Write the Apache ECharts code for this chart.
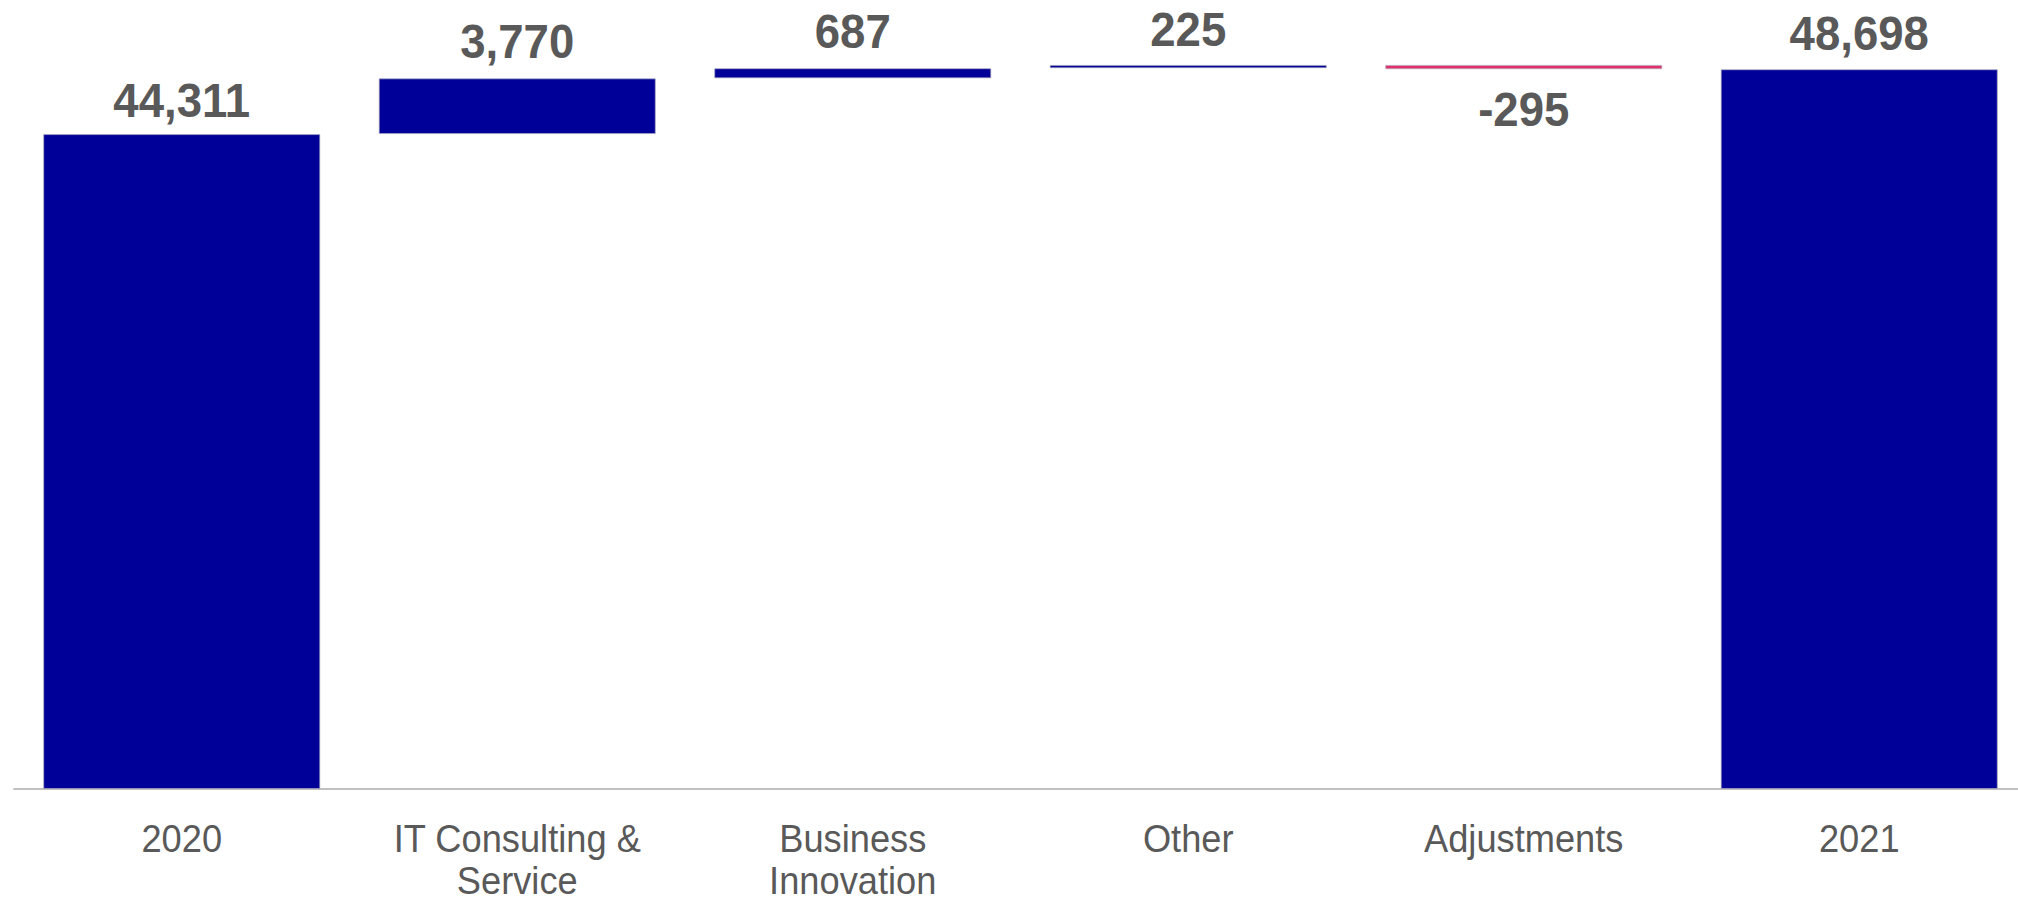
<!DOCTYPE html>
<html>
<head>
<meta charset="utf-8">
<script src="https://cdn.jsdelivr.net/npm/echarts@6/dist/echarts.min.js"></script>
<style>
  html, body { margin: 0; padding: 0; background: #ffffff; overflow: hidden; width: 2018px; height: 902px; }
  /* drawn on a slightly wider canvas, then narrowed so the lettering is a touch condensed */
  #chart { width: 2170px; height: 902px; transform: scaleX(0.929954); transform-origin: 0 0; }
</style>
</head>
<body>
<div id="chart"></div>
<script>
// Revenue bridge 2020 -> 2021
const categories = ['2020', 'IT Consulting &\nService', 'Business\nInnovation', 'Other', 'Adjustments', '2021'];
const startValue = 44311;
const changes = [3770, 687, 225, -295];
const endValue = 48698;

const BLUE = '#000099';
const RED = '#E0316B';
const TEXT = '#595959';
const FONT = 'Liberation Sans, Arial, sans-serif';
const SX = 0.929954;                        // horizontal squeeze applied by CSS
const labelGap = [10, 13, 13, 11, 15, 12];  // gap between each bar and its value label

// Build invisible offsets and visible heights for the waterfall
const offsets = [0];
const heights = [startValue];
const labels = [startValue];
const colors = [BLUE];
let running = startValue;
changes.forEach(function (d) {
  const next = running + d;
  offsets.push(Math.min(running, next));
  heights.push(Math.abs(d));
  labels.push(d);
  colors.push(d < 0 ? RED : BLUE);
  running = next;
});
offsets.push(0);
heights.push(endValue);
labels.push(endValue);
colors.push(BLUE);

const fmt = function (v) { return v.toLocaleString('en-US'); };

const chart = echarts.init(document.getElementById('chart'), null, { renderer: 'svg' });
chart.setOption({
  animation: false,
  backgroundColor: '#ffffff',
  grid: {
    left: 14 / SX, width: 2013 / SX, top: 50, bottom: 113,
    containLabel: false,
    outerBoundsMode: 'none'
  },
  xAxis: {
    type: 'category',
    data: categories,
    axisLine: { show: true, lineStyle: { color: '#C0C0C0', width: 2 } },
    axisTick: { show: false },
    axisLabel: {
      color: TEXT,
      fontFamily: FONT,
      fontSize: 39,
      lineHeight: 42,
      margin: 29,
      interval: 0
    }
  },
  yAxis: {
    type: 'value',
    min: 0,
    max: 50000,
    show: false,
    splitLine: { show: false }
  },
  series: [
    {
      name: 'offset',
      type: 'bar',
      stack: 'bridge',
      barWidth: 277 / SX,
      itemStyle: { color: 'transparent' },
      emphasis: { disabled: true },
      data: offsets
    },
    {
      name: 'value',
      type: 'bar',
      stack: 'bridge',
      barWidth: 277 / SX,
      data: heights.map(function (h, i) {
        return {
          value: h,
          itemStyle: { color: colors[i], borderColor: 'rgba(170,170,190,0.7)', borderWidth: 1 },
          label: {
            show: true,
            position: labels[i] < 0 ? 'bottom' : 'top',
            distance: labelGap[i],
            formatter: fmt(labels[i]),
            color: TEXT,
            fontFamily: FONT,
            fontWeight: 'bold',
            fontSize: 49
          }
        };
      })
    }
  ]
});
</script>
</body>
</html>
